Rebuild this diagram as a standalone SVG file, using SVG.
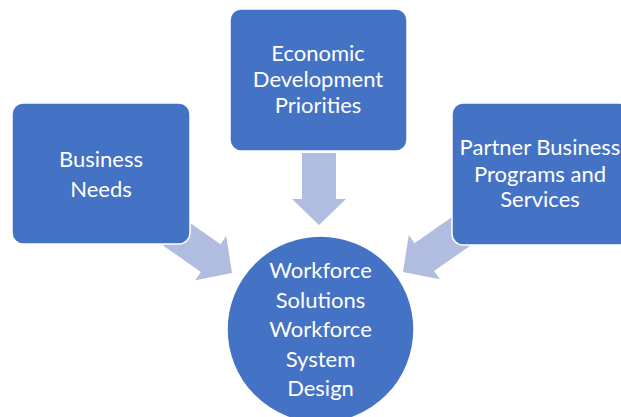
<svg xmlns="http://www.w3.org/2000/svg" width="621" height="417" viewBox="0 0 621 417">
<style>
.box{fill:#4472C4;stroke:#FFFFFF;stroke-width:1.5}
.arr{fill:#B0BDE0}
.t{font-family:Lato,"Open Sans",sans-serif;font-size:22px;fill:#FFFFFF;text-anchor:middle}
</style>
<defs>
<polygon id="arrow" points="0,-17 46,-17 46,-27 72,0 46,27 46,17 0,17"/>
</defs>
<rect width="621" height="417" fill="#FFFFFF"/>
<g id="connectors">
<use href="#arrow" class="arr" transform="translate(319,153) rotate(90)"/>
<use href="#arrow" class="arr" transform="translate(232,273) rotate(35) translate(-72,0)"/>
<use href="#arrow" class="arr" transform="translate(403,272) rotate(145) translate(-72,0)"/>
</g>
<g id="node-business">
<rect class="box" x="12" y="103" width="178" height="141" rx="11"/>
<text class="t" x="101" y="167">Business</text>
<text class="t" x="101" y="197">Needs</text>
</g>
<g id="node-economic">
<rect class="box" x="230" y="9" width="177" height="142" rx="11"/>
<text class="t" x="318" y="61">Economic</text>
<text class="t" x="318" y="87">Development</text>
<text class="t" x="318" y="113">Priorities</text>
</g>
<g id="node-partner">
<rect class="box" x="452" y="103" width="178" height="142" rx="11"/>
<text class="t" x="540" y="155">Partner Business</text>
<text class="t" x="540" y="182">Programs and</text>
<text class="t" x="540" y="207">Services</text>
</g>
<g id="node-workforce">
<circle class="box" cx="320.5" cy="329.5" r="93.5"/>
<text class="t" x="320.5" y="278">Workforce</text>
<text class="t" x="320.5" y="307.5">Solutions</text>
<text class="t" x="320.5" y="337">Workforce</text>
<text class="t" x="320.5" y="366.5">System</text>
<text class="t" x="320.5" y="396">Design</text>
</g>
</svg>
